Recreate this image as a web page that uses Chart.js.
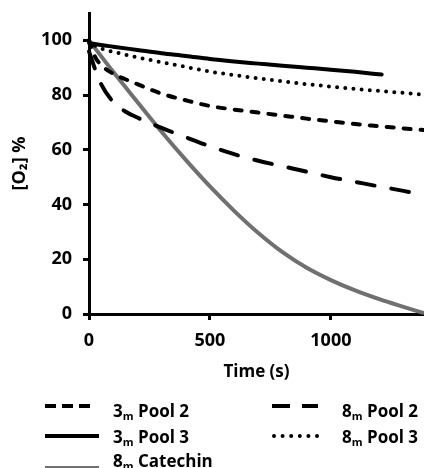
<!DOCTYPE html>
<html>
<head>
<meta charset="utf-8">
<script src="https://cdn.jsdelivr.net/npm/chart.js@4.4.1/dist/chart.umd.min.js"></script>
<style>
  html, body { margin: 0; padding: 0; background: #fff; }
  #wrap { position: relative; width: 424px; height: 468px; overflow: hidden; }
  #cv { position: absolute; left: 0; top: 0; }
  .leg { position: absolute; font-family: "Open Sans", sans-serif; font-weight: bold; font-size: 17px; color: #000; white-space: nowrap; line-height: 1; }
  .leg sub { font-size: 11px; vertical-align: -3px; }
  svg { position: absolute; overflow: visible; }
</style>
</head>
<body>
<div id="wrap">
  <canvas id="cv" width="424" height="388"></canvas>
  <svg style="left:0;top:0" width="424" height="468">
    <line x1="45" y1="406" x2="92" y2="406" stroke="#000" stroke-width="4" stroke-dasharray="11 6"/>
    <line x1="272" y1="406" x2="318" y2="406" stroke="#000" stroke-width="4" stroke-dasharray="18 12"/>
    <line x1="45" y1="436" x2="99" y2="436" stroke="#000" stroke-width="4"/>
    <line x1="274" y1="436" x2="318" y2="436" stroke="#000" stroke-width="4" stroke-linecap="round" stroke-dasharray="0 8.6"/>
    <line x1="45" y1="468" x2="99" y2="468" stroke="#707070" stroke-width="4"/>
  </svg>
  <div class="leg" style="left:113px;top:402px">3<sub>m</sub> Pool 2</div>
  <div class="leg" style="left:342px;top:402px">8<sub>m</sub> Pool 2</div>
  <div class="leg" style="left:113px;top:428px">3<sub>m</sub> Pool 3</div>
  <div class="leg" style="left:342px;top:428px">8<sub>m</sub> Pool 3</div>
  <div class="leg" style="left:113px;top:452px">8<sub>m</sub> Catechin</div>
</div>
<script>
// ---- data ----
const timeFull = [0, 25, 50, 100, 150, 200, 300, 400, 500, 600, 700, 800, 900, 1000, 1100, 1200, 1300, 1385];
const pool2_3m = [100, 94, 91, 87.8, 85.8, 84, 80.5, 78.1, 76, 74.7, 73.6, 72.5, 71.4, 70.4, 69.4, 68.6, 67.8, 67.2];
const pool2_8m = [96, 89.5, 84, 77.5, 74, 71.8, 68, 64.6, 61.3, 58.4, 56, 54, 52, 50, 48.3, 46.6, 45, 43.5];
const pool3_8m = [100, 98, 97, 95.8, 94.8, 93.8, 92, 90.3, 88.6, 87.3, 86.1, 85, 84, 83.1, 82.3, 81.5, 80.8, 80.2];
const time3m3 = [0, 50, 100, 200, 300, 400, 500, 600, 700, 800, 900, 1000, 1100, 1210];
const pool3_3m = [99, 98.3, 97.7, 96.5, 95.3, 94.3, 93.2, 92.3, 91.5, 90.7, 90.0, 89.3, 88.5, 87.5];
const timeCat = [0, 100, 200, 300, 400, 500, 600, 700, 800, 900, 1000, 1100, 1200, 1300, 1385];
const catechin_8m = [100, 88.5, 77.5, 66.6, 56.3, 46.6, 37.7, 29.6, 22.6, 16.9, 12.4, 8.6, 5.4, 2.6, 0.3];
const xTicks = [0, 500, 1000];
const yTicks = [0, 20, 40, 60, 80, 100];
const xTitle = 'Time (s)';
const yTitle = '[O\u2082] %';

const pts = (xs, ys) => xs.map((x, i) => ({ x: x, y: ys[i] }));
const FONT = '"Open Sans", sans-serif';

new Chart(document.getElementById('cv'), {
  type: 'line',
  data: {
    datasets: [
      { label: '3m Pool 2', data: pts(timeFull, pool2_3m), borderColor: '#000', borderWidth: 4, borderDash: [7, 10], borderCapStyle: 'round' },
      { label: '8m Pool 2', data: pts(timeFull, pool2_8m), borderColor: '#000', borderWidth: 4, borderDash: [18, 17], borderCapStyle: 'round' },
      { label: '8m Pool 3', data: pts(timeFull, pool3_8m), borderColor: '#000', borderWidth: 4, borderDash: [0, 8.2], borderCapStyle: 'round' },
      { label: '3m Pool 3', data: pts(time3m3, pool3_3m), borderColor: '#000', borderWidth: 4, borderCapStyle: 'round' },
      { label: '8m Catechin', data: pts(timeCat, catechin_8m), borderColor: '#707070', borderWidth: 4 }
    ]
  },
  options: {
    responsive: false,
    animation: false,
    clip: false,
    elements: { point: { radius: 0 }, line: { cubicInterpolationMode: 'monotone', fill: false } },
    layout: { padding: { top: 13, right: 0, left: 0, bottom: 0 } },
    plugins: { legend: { display: false }, tooltip: { enabled: false } },
    scales: {
      x: {
        type: 'linear', min: 0, max: 1385,
        afterBuildTicks: s => { s.ticks = xTicks.map(v => ({ value: v })); },
        afterFit: s => { s.height = 388 - 314; s.paddingLeft = 0; s.paddingRight = 0; },
        border: { display: true, color: '#000', width: 3 },
        grid: { drawOnChartArea: false, drawTicks: true, tickLength: 6, tickWidth: 3, tickColor: '#000' },
        ticks: { color: '#000', font: { family: FONT, weight: 'bold', size: 18 }, padding: 10, maxRotation: 0, callback: v => String(v) },
        title: { display: true, text: xTitle, color: '#000', font: { family: FONT, weight: 'bold', size: 17 }, padding: { top: 0, bottom: 6 } }
      },
      y: {
        type: 'linear', min: 0, max: 110,
        afterBuildTicks: s => { s.ticks = yTicks.map(v => ({ value: v })); },
        afterFit: s => { s.width = 89; s.paddingTop = 0; s.paddingBottom = 0; },
        border: { display: true, color: '#000', width: 3 },
        grid: { drawOnChartArea: false, drawTicks: true, tickLength: 6, tickWidth: 3, tickColor: '#000' },
        ticks: { color: '#000', font: { family: FONT, weight: 'bold', size: 18 }, padding: 11, callback: v => String(v) },
        title: { display: true, text: yTitle, color: '#000', font: { family: FONT, weight: 'bold', size: 18 }, padding: { top: 9, bottom: 0 } }
      }
    }
  }
});
</script>
</body>
</html>
